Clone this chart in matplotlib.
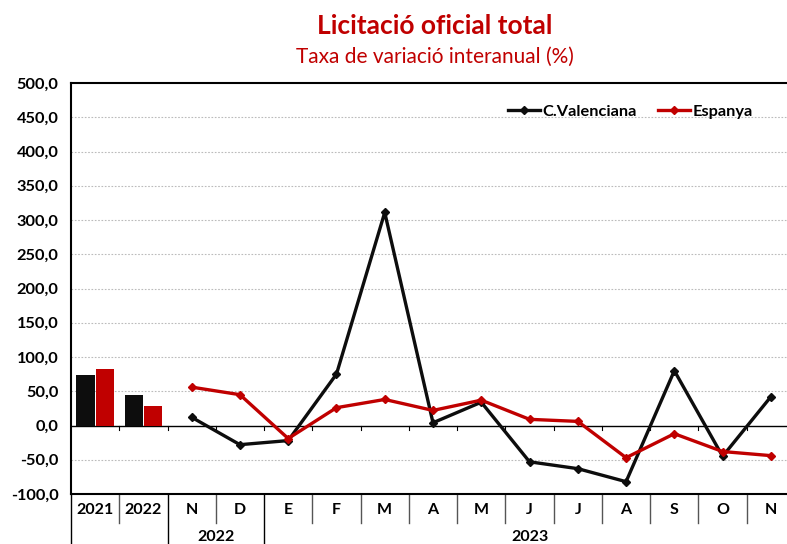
import matplotlib
matplotlib.use('Agg')
import matplotlib.pyplot as plt
import matplotlib.transforms as mtransforms
import numpy as np

# Data
years = ['2021', '2022']
bars_cv = [73, 45]
bars_esp = [83, 28]

months = ['N', 'D', 'E', 'F', 'M', 'A', 'M', 'J', 'J', 'A', 'S', 'O', 'N']
line_cv = [12, -28, -22, 75, 311, 4, 34, -53, -63, -82, 80, -45, 42]
line_esp = [56, 45, -19, 26, 38, 22, 37, 9, 6, -47, -12, -38, -44]

year_groups = [('2022', 2, 3), ('2023', 4, 14)]  # label, first and last category index

black = '#0D0D0D'
red = '#C00000'

plt.rcParams['font.family'] = ['Lato', 'DejaVu Sans']

fig = plt.figure(figsize=(7.87, 5.44), dpi=100)
ax = fig.add_axes([71 / 787, 1 - 494 / 544, 724 / 787, 411 / 544])

n_cat = len(years) + len(months)
xb = np.arange(len(years))
ax.bar(xb - 0.2, bars_cv, width=0.38, color=black, zorder=3)
ax.bar(xb + 0.2, bars_esp, width=0.38, color=red, zorder=3)

xm = np.arange(len(years), n_cat)
ax.plot(xm, line_cv, color=black, lw=2.4, marker='D', ms=3.8, label='C.Valenciana', zorder=4)
ax.plot(xm, line_esp, color=red, lw=2.4, marker='D', ms=3.8, label='Espanya', zorder=4)

ax.set_xlim(-0.5, n_cat - 0.5)
ax.set_ylim(-100, 500)
ax.set_yticks(np.arange(-100, 501, 50))
ax.set_yticklabels([('%.1f' % v).replace('.', ',') for v in np.arange(-100, 501, 50)],
                   fontweight='bold', fontsize=11.8)
ax.tick_params(axis='y', length=0, pad=9)
ax.set_xticks([])

for v in np.arange(-50, 500, 50):
    if v != 0:
        ax.axhline(v, color='#BBBBBB', lw=0.8, ls=(0, (1.5, 1.5)), zorder=1)
ax.axhline(0, color='black', lw=1, zorder=2)

# small ticks on the zero line at category boundaries
for k in range(1, n_cat):
    ax.plot([k - 0.5, k - 0.5], [0, -7], color='black', lw=0.8, zorder=2)

for s in ['left', 'top', 'bottom']:
    ax.spines[s].set_linewidth(1.5)
ax.spines['right'].set_visible(False)

# multi-level category axis under the plot
trans = mtransforms.blended_transform_factory(ax.transData, ax.transAxes)
labels = years + months
for i, lab in enumerate(labels):
    ax.text(i, -0.039, lab, transform=trans, ha='center', va='center',
            fontweight='bold', fontsize=11.5)
long_edges = [-0.5, 1.5, 3.5]
for k in range(n_cat + 1):
    x = k - 0.5
    y1 = -0.125 if x in long_edges else -0.07
    ax.plot([x, x], [0, y1], transform=trans, color='#555555' if x not in long_edges else 'black',
            lw=1, clip_on=False)
for lab, a, b in year_groups:
    ax.text((a + b) / 2, -0.105, lab, transform=trans, ha='center', va='center',
            fontweight='bold', fontsize=11.5)

leg = ax.legend(loc='center', bbox_to_anchor=(630 / 787, 1 - 112 / 544),
                bbox_transform=fig.transFigure, ncol=2, frameon=False,
                handlelength=2.0, handletextpad=0.1, columnspacing=1.3,
                prop={'weight': 'bold', 'size': 11.8})

fig.text(435 / 787, 1 - 26 / 544, 'Licitació oficial total', ha='center', va='center',
         color=red, fontweight='bold', fontsize=19)
fig.text(435 / 787, 1 - 57 / 544, 'Taxa de variació interanual (%)', ha='center', va='center',
         color=red, fontsize=15)

fig.savefig('out.png', dpi=100)
